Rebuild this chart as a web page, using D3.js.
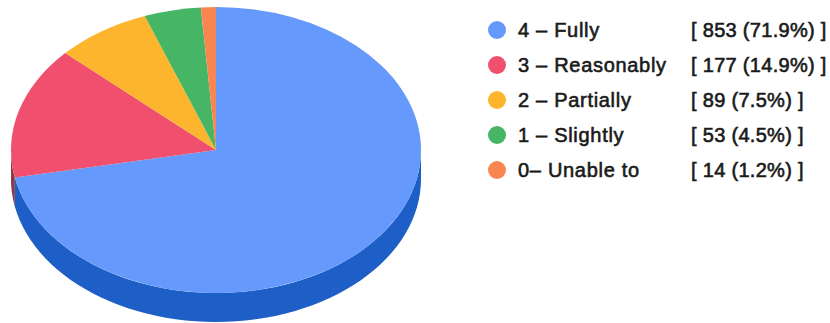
<!DOCTYPE html>
<html>
<head>
<meta charset="utf-8">
<script src="https://cdn.jsdelivr.net/npm/d3@7"></script>
<style>
  html, body { margin: 0; padding: 0; background: #fff; }
  svg { display: block; }
  text { font-family: "Liberation Sans", Arial, sans-serif; font-size: 20px; fill: #1a1a1a; stroke: #1a1a1a; stroke-width: 0.6px; }
  .name { letter-spacing: 0.7px; }
  .count { letter-spacing: 0.3px; }
</style>
</head>
<body>
<svg id="chart" width="830" height="323"></svg>
<script>
// chart data
var categories = ["4 – Fully", "3 – Reasonably", "2 – Partially", "1 – Slightly", "0– Unable to"];
var counts = [853, 177, 89, 53, 14];
var value_labels = ["[ 853 (71.9%) ]", "[ 177 (14.9%) ]", "[ 89 (7.5%) ]", "[ 53 (4.5%) ]", "[ 14 (1.2%) ]"];
var top_colors = ["#6699fc", "#f0506e", "#fdb52e", "#46b565", "#fb8550"];
var side_colors = ["#1d5fc6", "#8c3a4a", "#b57f1c", "#2f8046", "#b05c36"];

var svg = d3.select("#chart");

// pie geometry
var cx = 216, cy = 150, rx = 205, ry = 143, depth = 29;

var slices = d3.pie().sort(null)(counts);
var arc = d3.arc().innerRadius(0).outerRadius(rx);

function edge_point(a, dy) {
  // point on the tilted rim at pie angle a (0 = up, clockwise)
  return [cx + rx * Math.sin(a), cy - ry * Math.cos(a) + dy];
}

function side_path(d) {
  // the wall under a slice, only the part on the front half of the rim
  var a0 = Math.max(d.startAngle, Math.PI / 2);
  var a1 = Math.min(d.endAngle, Math.PI * 3 / 2);
  if (a1 <= a0) return null;
  var pts = d3.range(0, 61).map(function(i) { return a0 + (a1 - a0) * i / 60; });
  var front = pts.map(function(a) { return edge_point(a, 0); });
  var back = pts.slice().reverse().map(function(a) { return edge_point(a, depth); });
  return d3.line()(front.concat(back)) + "Z";
}

svg.append("g").selectAll("path")
  .data(slices)
  .enter()
  .append("path")
  .attr("d", side_path)
  .attr("fill", function(d, i) { return side_colors[i]; });

svg.append("g")
  .attr("transform", "translate(" + cx + "," + cy + ") scale(1," + (ry / rx) + ")")
  .selectAll("path")
  .data(slices)
  .enter()
  .append("path")
  .attr("d", arc)
  .attr("fill", function(d, i) { return top_colors[i]; });

// legend
var legend_y = d3.scalePoint().domain(categories).range([30, 170]);

var rows = svg.append("g").selectAll("g")
  .data(categories)
  .enter()
  .append("g")
  .attr("transform", function(d) { return "translate(0," + legend_y(d) + ")"; });

rows.append("circle")
  .attr("cx", 497)
  .attr("r", 9)
  .attr("fill", function(d, i) { return top_colors[i]; });

rows.append("text")
  .attr("class", "name")
  .attr("x", 518)
  .attr("dy", "0.35em")
  .text(function(d) { return d; });

rows.append("text")
  .attr("class", "count")
  .attr("x", 691)
  .attr("dy", "0.35em")
  .text(function(d, i) { return value_labels[i]; });
</script>
</body>
</html>
